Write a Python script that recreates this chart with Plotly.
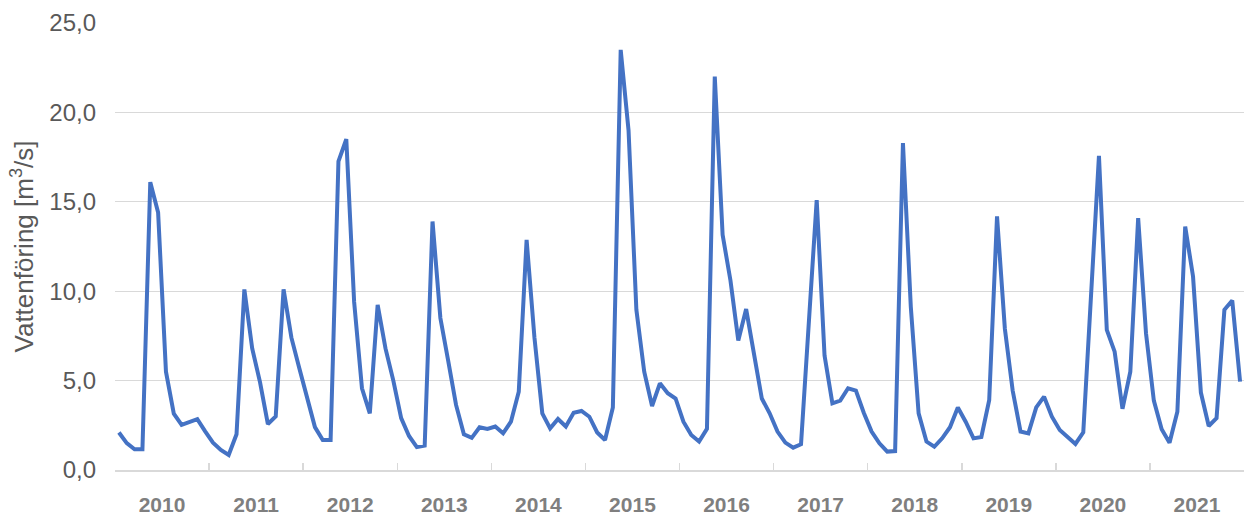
"""Monthly discharge 2010-2021 — Excel-style line chart."""

import plotly.graph_objects as go

YEARS = ["2010", "2011", "2012", "2013", "2014", "2015",
         "2016", "2017", "2018", "2019", "2020", "2021"]

# monthly flow [m3/s], one list per year (Jan..Dec)
Q_2010 = [2.1, 1.5, 1.16, 1.16, 16.1, 14.4, 5.5, 3.15, 2.52, 2.67, 2.84, 2.16]
Q_2011 = [1.53, 1.12, 0.84, 2.0, 10.1, 6.8, 4.9, 2.57, 3.0, 10.1, 7.4, 5.7]
Q_2012 = [4.0, 2.4, 1.68, 1.68, 17.26, 18.5, 9.4, 4.57, 3.17, 9.23, 6.8, 5.0]
Q_2013 = [2.9, 1.9, 1.28, 1.36, 13.9, 8.5, 6.1, 3.64, 2.0, 1.8, 2.39, 2.3]
Q_2014 = [2.43, 2.05, 2.7, 4.38, 12.87, 7.4, 3.17, 2.33, 2.85, 2.43, 3.2, 3.3]
Q_2015 = [2.98, 2.1, 1.68, 3.5, 23.5, 19.0, 8.96, 5.5, 3.58, 4.85, 4.29, 4.0]
Q_2016 = [2.7, 1.96, 1.59, 2.3, 22.0, 13.15, 10.6, 7.24, 9.0, 6.5, 4.0, 3.17]
Q_2017 = [2.15, 1.53, 1.25, 1.44, 7.9, 15.1, 6.4, 3.73, 3.88, 4.57, 4.44, 3.2]
Q_2018 = [2.15, 1.49, 1.03, 1.06, 18.28, 9.14, 3.17, 1.59, 1.3, 1.77, 2.39, 3.5]
Q_2019 = [2.7, 1.77, 1.85, 3.9, 14.18, 7.9, 4.43, 2.15, 2.05, 3.5, 4.1, 2.98]
Q_2020 = [2.24, 1.87, 1.46, 2.1, 9.6, 17.57, 7.84, 6.62, 3.42, 5.5, 14.09, 7.65]
Q_2021 = [3.88, 2.28, 1.53, 3.26, 13.62, 10.82, 4.33, 2.46, 2.9, 8.96, 9.48, 4.94]

flow = (Q_2010 + Q_2011 + Q_2012 + Q_2013 + Q_2014 + Q_2015
        + Q_2016 + Q_2017 + Q_2018 + Q_2019 + Q_2020 + Q_2021)
months = list(range(len(flow)))

LINE = "#4472C4"
GRID = "#d9d9d9"
TICK = "#595959"
YEAR_C = "#7f7f7f"
FONT = "Liberation Sans, Arial, sans-serif"

n_years = len(YEARS)
x_range = [-0.5, 12 * n_years - 0.5]
year_edges = [12 * k - 0.5 for k in range(n_years + 1)]
year_mids = [12 * k + 5.5 for k in range(n_years)]

fig = go.Figure()
fig.add_trace(
    go.Scatter(
        x=months,
        y=flow,
        mode="lines",
        line=dict(color=LINE, width=4),
        hoverinfo="skip",
        showlegend=False,
    )
)
# invisible twin on x2 so the year-label axis gets drawn
fig.add_trace(
    go.Scatter(
        x=months,
        y=flow,
        xaxis="x2",
        mode="lines",
        line=dict(color="rgba(0,0,0,0)", width=0),
        hoverinfo="skip",
        showlegend=False,
    )
)

fig.update_layout(
    width=1245,
    height=517,
    margin=dict(l=115, r=1, t=23, b=47),
    paper_bgcolor="white",
    plot_bgcolor="white",
    separators=", ",
    font=dict(family=FONT, color=TICK),
    showlegend=False,
    xaxis=dict(
        range=x_range,
        tickmode="array",
        tickvals=year_edges,
        showticklabels=False,
        ticks="inside",
        ticklen=7,
        tickwidth=1.5,
        tickcolor=GRID,
        showgrid=False,
        zeroline=False,
        showline=True,
        linecolor=GRID,
        linewidth=1.5,
        fixedrange=True,
    ),
    xaxis2=dict(
        overlaying="x",
        anchor="y",
        side="bottom",
        range=x_range,
        tickmode="array",
        tickvals=year_mids,
        ticktext=YEARS,
        ticks="",
        ticklabelstandoff=20,
        tickfont=dict(size=21, color=YEAR_C, family=FONT, weight="bold"),
        showgrid=False,
        zeroline=False,
        showline=False,
        fixedrange=True,
    ),
    yaxis=dict(
        range=[0, 25],
        tickmode="linear",
        tick0=0,
        dtick=5,
        tickformat=".1f",
        tickfont=dict(size=24, color=TICK),
        ticks="",
        ticklabelstandoff=18,
        showgrid=True,
        gridcolor=GRID,
        gridwidth=1.3,
        zeroline=False,
        title=dict(
            text="Vattenföring [m<sup>3</sup>/s]",
            font=dict(size=26, color=TICK),
            standoff=8,
        ),
        fixedrange=True,
    ),
)

# drop the default page margin so the figure sits at the window origin
fig.write_html(
    "out.html",
    config={"displayModeBar": False, "staticPlot": True},
    post_script="document.body.style.margin='0';document.body.style.overflow='hidden';",
)
